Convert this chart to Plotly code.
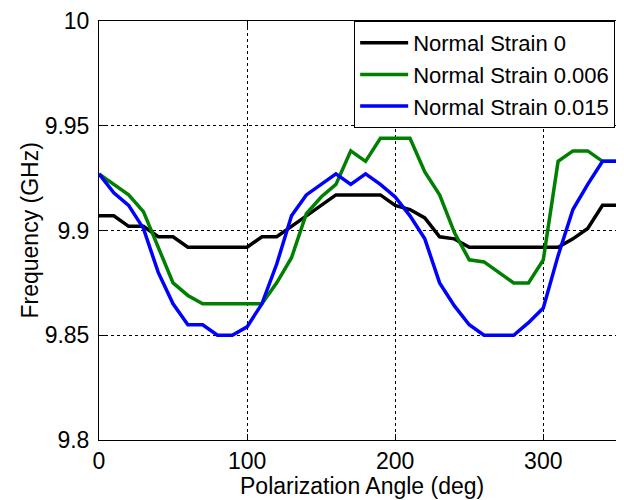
import plotly.graph_objects as go

angle = [0, 10, 20, 30, 40, 50, 60, 70, 80, 90, 100, 110, 120, 130, 140, 150, 160, 170, 180,
         190, 200, 210, 220, 230, 240, 250, 260, 270, 280, 290, 300, 310, 320, 330, 340, 350, 360]

strain_0 = [9.907, 9.907, 9.902, 9.902, 9.897, 9.897, 9.892, 9.892, 9.892, 9.892, 9.892, 9.897,
            9.897, 9.902, 9.907, 9.912, 9.917, 9.917, 9.917, 9.917, 9.912, 9.910, 9.906, 9.897,
            9.896, 9.892, 9.892, 9.892, 9.892, 9.892, 9.892, 9.892, 9.896, 9.901, 9.912, 9.912, 9.907]

strain_0006 = [9.927, 9.922, 9.917, 9.909, 9.892, 9.875, 9.869, 9.865, 9.865, 9.865, 9.865, 9.865,
               9.875, 9.887, 9.908, 9.916, 9.922, 9.938, 9.933, 9.944, 9.944, 9.944, 9.928, 9.917,
               9.899, 9.886, 9.885, 9.880, 9.875, 9.875, 9.886, 9.933, 9.938, 9.938, 9.933, 9.933, 9.933]

strain_0015 = [9.927, 9.918, 9.912, 9.901, 9.880, 9.865, 9.855, 9.855, 9.850, 9.850, 9.854, 9.865,
               9.884, 9.907, 9.917, 9.922, 9.927, 9.922, 9.927, 9.922, 9.916, 9.907, 9.896, 9.875,
               9.864, 9.855, 9.850, 9.850, 9.850, 9.856, 9.863, 9.888, 9.910, 9.922, 9.933, 9.933, 9.933]

series_names = ["Normal Strain 0", "Normal Strain 0.006", "Normal Strain 0.015"]
series_colors = ["#000000", "#008000", "#0000ff"]

x_ticks = [0, 100, 200, 300]
y_ticks = [9.8, 9.85, 9.9, 9.95, 10]
y_tick_labels = ["9.8", "9.85", "9.9", "9.95", "10"]
x_title = "Polarization Angle (deg)"
y_title = "Frequency (GHz)"

FONT = "Liberation Sans, Arial, sans-serif"

fig = go.Figure()
for name, ys, col in zip(series_names, [strain_0, strain_0006, strain_0015], series_colors):
    fig.add_trace(go.Scatter(x=angle, y=ys, mode="lines", name=name,
                             line=dict(color=col, width=3.5)))

# the page body has an 8px default margin, so the figure is sized/offset to compensate
fig.update_layout(
    template="none",
    width=616, height=492,
    margin=dict(l=91, r=0, t=13, b=60, autoexpand=False),
    paper_bgcolor="white", plot_bgcolor="white",
    font=dict(family=FONT, size=23, color="black"),
    showlegend=True,
    legend=dict(x=0.486, y=1, xanchor="left", yanchor="top",
                bgcolor="white", bordercolor="black", borderwidth=1,
                font=dict(size=22), tracegroupgap=0, itemwidth=48),
    annotations=[
        dict(text=x_title, xref="paper", yref="paper", x=0.5, y=0,
             xanchor="center", yanchor="middle", yshift=-46, showarrow=False,
             font=dict(size=23)),
        dict(text=y_title, xref="paper", yref="paper", x=0, y=0.5,
             xanchor="center", yanchor="middle", xshift=-70, textangle=-90,
             showarrow=False, font=dict(size=23)),
    ],
)

fig.update_xaxes(
    range=[0, 354.5], tickvals=x_ticks, ticks="inside", ticklen=6, tickcolor="black",
    showline=True, linecolor="black", linewidth=1, mirror="ticks", automargin=False,
    showgrid=True, gridcolor="black", gridwidth=1, griddash="3px,3px",
    zeroline=False, ticklabelstandoff=0,
)
fig.update_yaxes(
    range=[9.8, 10], tickvals=y_ticks, ticktext=y_tick_labels, ticks="inside", ticklen=6,
    tickcolor="black", showline=True, linecolor="black", linewidth=1, mirror=False,
    automargin=False,
    showgrid=True, gridcolor="black", gridwidth=1, griddash="3px,3px",
    zeroline=False, ticklabelstandoff=4,
)

fig.write_html("out.html")
